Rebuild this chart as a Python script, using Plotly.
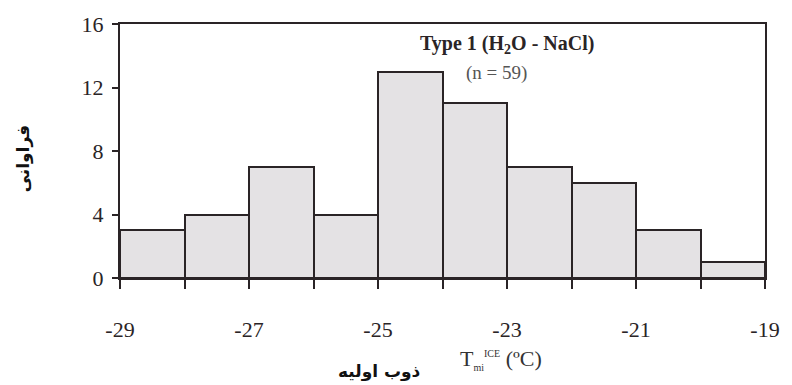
import plotly.graph_objects as go

bin_left = [-29, -28, -27, -26, -25, -24, -23, -22, -21, -20]
counts = [3, 4, 7, 4, 13, 11, 7, 6, 3, 1]
x_tick_vals = [-29, -27, -25, -23, -21, -19]
x_tick_text = ["-29", "-27", "-25", "-23", "-21", "-19"]
y_tick_vals = [0, 4, 8, 12, 16]

centers = [b + 0.5 for b in bin_left]

fig = go.Figure()
fig.add_trace(go.Bar(
    x=centers, y=counts, width=[1] * len(counts),
    marker=dict(color="#e4e2e4", line=dict(color="#2a2426", width=2)),
    showlegend=False,
))

serif = "Liberation Serif"
ink = "#2a2426"

fig.update_layout(
    width=792, height=385,
    margin=dict(l=120, r=21, t=23, b=107),
    paper_bgcolor="white", plot_bgcolor="white",
    bargap=0,
    font=dict(family=serif, size=19, color=ink),
    xaxis=dict(
        range=[-29, -19], showgrid=False, zeroline=False,
        showline=True, linecolor=ink, linewidth=2, mirror=True,
        tickmode="array", tickvals=x_tick_vals, ticktext=x_tick_text,
        ticks="outside", ticklen=9, tickwidth=2, tickcolor=ink,
        ticklabelstandoff=22,
        minor=dict(dtick=1, ticks="outside", ticklen=9, tickwidth=2, tickcolor=ink, showgrid=False),
        tickfont=dict(family=serif, size=22, color=ink),
    ),
    yaxis=dict(
        range=[0, 16], showgrid=False, zeroline=False,
        showline=True, linecolor=ink, linewidth=2, mirror=True,
        tickmode="array", tickvals=y_tick_vals,
        ticks="outside", ticklen=6, tickwidth=2, tickcolor=ink,
        ticklabelstandoff=4,
        tickfont=dict(family=serif, size=22, color=ink),
    ),
)

# annotations placed by pixel position (from top-left), converted to paper coords
pw, ph = 792 - 120 - 21, 385 - 23 - 107
def px(x, y):
    return (x - 120) / pw, (385 - y - 107) / ph

x_title = ("T<sub><span style='font-size:10px'>mi</span></sub>"
           "<sup><span style='font-size:10px'>ICE</span></sup> (ºC)")
notes = [
    ("<b>Type 1 (H<sub>2</sub>O - NaCl)</b>", 511, 44, serif, 20, ink, 0),
    ("(n = 59)", 500, 72, serif, 19, "#555555", 0),
    (x_title, 505, 360, serif, 22, "#333333", 0),
    ("<b>ذوب اولیه</b>", 382, 372, "DejaVu Sans", 17, "#111111", 0),
    ("<b>فراوانی</b>", 23, 158, "DejaVu Sans", 17, "#111111", -90),
]
for text, x, y, fam, size, col, ang in notes:
    xp, yp = px(x, y)
    fig.add_annotation(text=text, x=xp, y=yp, xref="paper", yref="paper",
                       xanchor="center", yanchor="middle", showarrow=False,
                       textangle=ang, font=dict(family=fam, size=size, color=col))

fig.write_html("out.html")
